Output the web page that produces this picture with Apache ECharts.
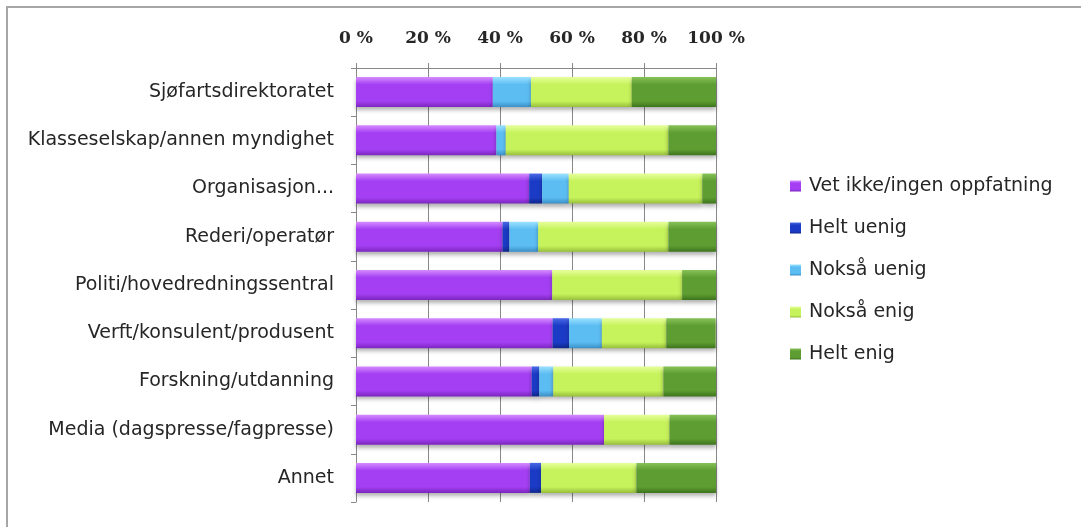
<!DOCTYPE html>
<html><head><meta charset="utf-8">
<script src="https://cdn.jsdelivr.net/npm/echarts@6/dist/echarts.min.js"></script>
<style>html,body{margin:0;padding:0;background:#fff}#c{width:1081px;height:527px}</style>
</head><body><div id="c"></div>
<script>
const categories = ["Sjøfartsdirektoratet","Klasseselskap/annen myndighet","Organisasjon...","Rederi/operatør","Politi/hovedredningssentral","Verft/konsulent/produsent","Forskning/utdanning","Media (dagspresse/fagpresse)","Annet"];
const seriesNames = ["Vet ikke/ingen oppfatning","Helt uenig","Nokså uenig","Nokså enig","Helt enig"];
const vetIkke    = [38.0, 39.0, 48.1, 40.7, 54.5, 54.6, 48.8, 68.9, 48.3];
const heltUenig  = [0,    0,    3.6,  1.9,  0,    4.6,  2.1,  0,    3.1];
const noksaUenig = [10.6, 2.6,  7.4,  8.0,  0,    9.1,  3.9,  0,    0];
const noksaEnig  = [28.0, 45.2, 37.1, 36.2, 36.1, 17.9, 30.6, 18.2, 26.5];
const heltEnig   = [23.4, 13.2, 3.8,  13.2, 9.4,  13.7, 14.6, 12.9, 22.1];
const tickLabels = ["0 %","20 %","40 %","60 %","80 %","100 %"];

const values = [vetIkke, heltUenig, noksaUenig, noksaEnig, heltEnig];
const palette = [
  ["#D58CFF","#A43FF3","#7B26BF"],
  ["#4A6AE6","#1B3BC6","#0F268C"],
  ["#9BE2FF","#5CBDF3","#3A8FC6"],
  ["#E6FF9C","#C6F35B","#97BE3C"],
  ["#86C257","#5E9D31","#3D741D"]
];
function grad(p){
  return new echarts.graphic.LinearGradient(0,0,0,1,[
    {offset:0,color:p[0]},{offset:0.25,color:p[1]},{offset:0.8,color:p[1]},{offset:1,color:p[2]}
  ]);
}
const labelFont = "DejaVu Sans";
const chart = echarts.init(document.getElementById('c'), null, {renderer:'canvas'});
chart.setOption({
  animation:false,
  backgroundColor:'#fff',
  graphic:[{type:'rect',shape:{x:7,y:7,width:1200,height:600},style:{fill:'none',stroke:'#A6A6A6',lineWidth:2},silent:true}],
  grid:{left:356,right:365,top:68,bottom:25},
  legend:{
    orient:'vertical', left:785, top:171,
    itemWidth:11, itemHeight:11, itemGap:22,
    icon:'rect',
    textStyle:{fontFamily:labelFont,fontSize:19,color:'#262626',lineHeight:20,padding:[0,0,0,3]},
    data:seriesNames
  },
  xAxis:{
    type:'value', position:'top', min:0, max:100, interval:20,
    axisLine:{show:true,lineStyle:{color:'#888'}},
    axisTick:{show:true,length:5,lineStyle:{color:'#888'}},
    splitLine:{show:true,lineStyle:{color:'#888',width:1}},
    axisLabel:{margin:21,fontFamily:'DejaVu Serif',fontWeight:'bold',fontSize:17,color:'#262626',
      formatter:(v)=>tickLabels[Math.round(v/20)]}
  },
  yAxis:{
    type:'category', inverse:true, data:categories,
    axisLine:{show:true,lineStyle:{color:'#888'}},
    axisTick:{show:true,length:5,lineStyle:{color:'#888'}},
    axisLabel:{margin:22,fontFamily:labelFont,fontSize:19,color:'#262626'}
  },
  series: seriesNames.map((n,i)=>({
    name:n, type:'bar', stack:'total', barWidth:30,
    data: values[i],
    itemStyle:{color:grad(palette[i]),shadowColor:'rgba(0,0,0,0.3)',shadowBlur:4,shadowOffsetY:3}
  }))
});
</script></body></html>
